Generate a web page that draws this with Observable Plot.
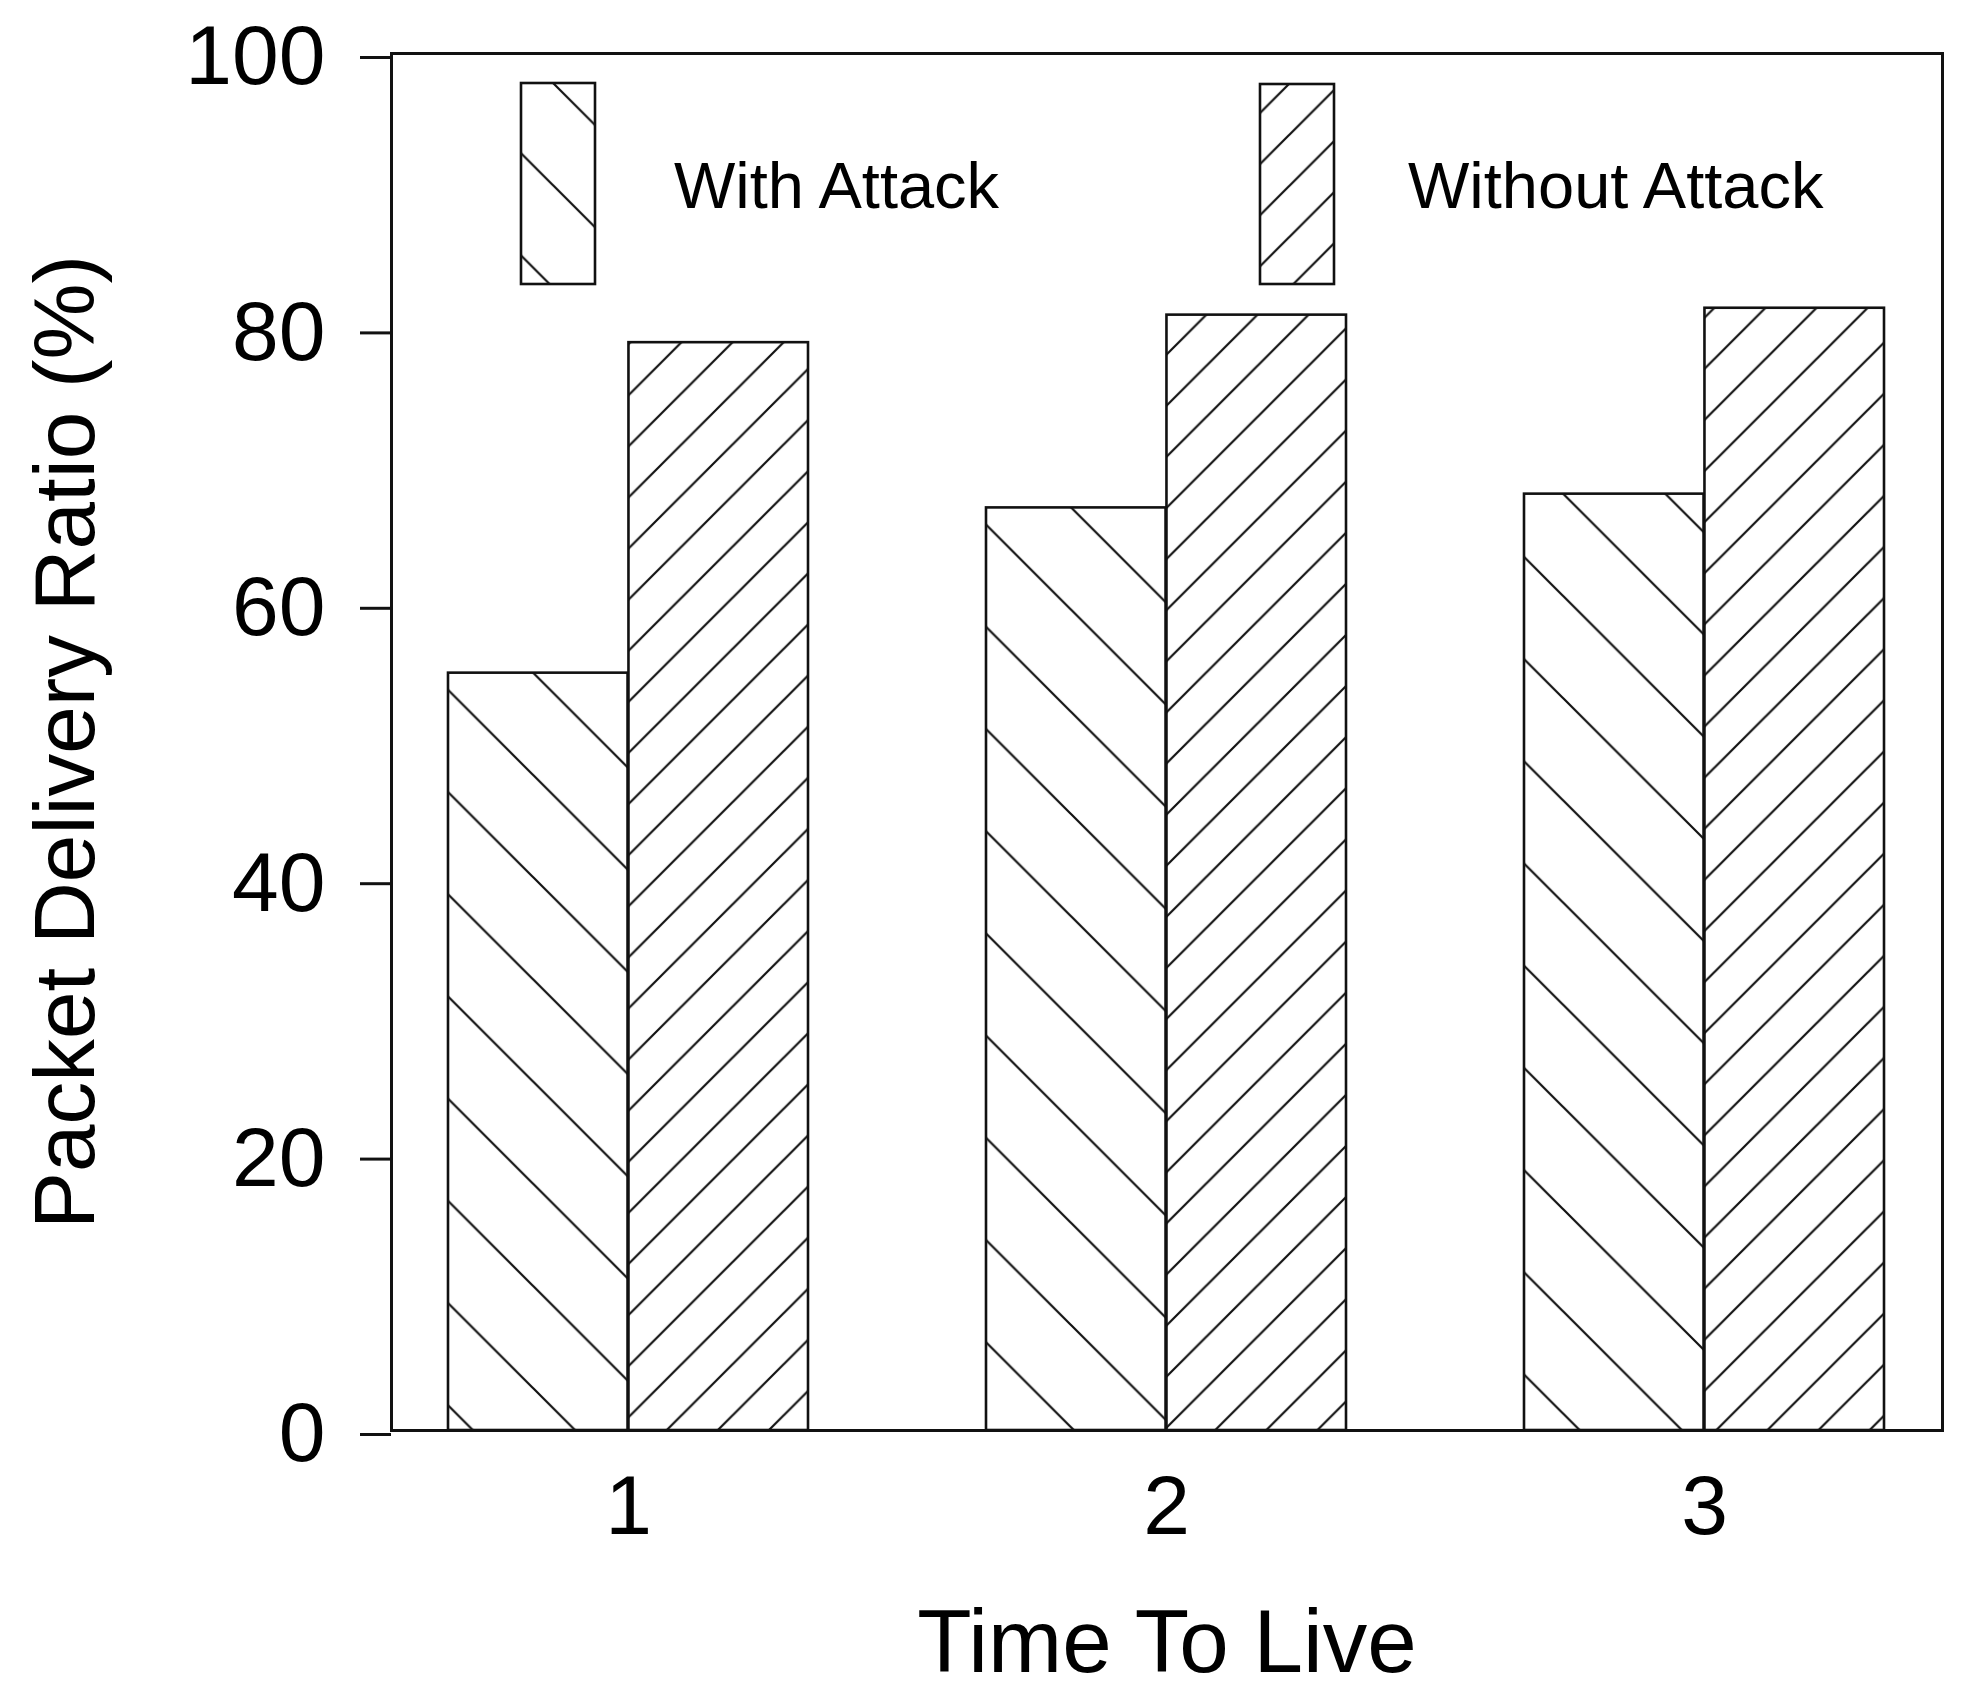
<!DOCTYPE html>
<html>
<head>
<meta charset="utf-8">
<script src="https://cdn.jsdelivr.net/npm/d3@7"></script>
<script src="https://cdn.jsdelivr.net/npm/@observablehq/plot@0.6"></script>
<style>
  html, body { margin: 0; padding: 0; background: #fff; }
  #chart { width: 1972px; height: 1695px; }
</style>
</head>
<body>
<div id="chart"></div>
<script>
// ---- data ----
const ttlLevels = ["1", "2", "3"];
const withAttack = [55, 67, 68];
const withoutAttack = [79, 81, 81.5];
const seriesNames = ["With Attack", "Without Attack"];
const yTicks = [0, 20, 40, 60, 80, 100];
const xTitle = "Time To Live";
const yTitle = "Packet Delivery Ratio (%)";

const rows = ttlLevels.flatMap((t, i) => [
  {ttl: t, series: seriesNames[0], value: withAttack[i], id: `hatch-w-${i}`, i},
  {ttl: t, series: seriesNames[1], value: withoutAttack[i], id: `hatch-n-${i}`, i}
]);

// ---- layout / style ----
const W = 1972, H = 1695, mL = 391, mR = 30, mT = 53, mB = 265;
const INK = "#111";
const TXT = "#000";
const FONT = "'Liberation Sans', Arial, Helvetica, sans-serif";
const xOpts = {type: "band", domain: ttlLevels, paddingInner: 0.33, paddingOuter: 0.1046};
const bw = Plot.scale({x: {...xOpts, range: [mL, W - mR]}}).bandwidth;

const plot = Plot.plot({
  width: W, height: H,
  marginLeft: mL, marginRight: mR, marginTop: mT, marginBottom: mB,
  style: {fontFamily: FONT, fontSize: "84px", color: TXT, background: "#fff"},
  x: xOpts,
  y: {domain: [0, 100]},
  color: {type: "identity"},
  marks: [
    Plot.barY(rows.filter(d => d.series === seriesNames[0]), {
      x: "ttl", y: "value", fill: d => `url(#${d.id})`,
      stroke: INK, strokeWidth: 2.6, insetRight: bw / 2
    }),
    Plot.barY(rows.filter(d => d.series === seriesNames[1]), {
      x: "ttl", y: "value", fill: d => `url(#${d.id})`,
      stroke: INK, strokeWidth: 2.6, insetLeft: bw / 2
    }),
    Plot.frame({stroke: INK, strokeWidth: 3}),
    Plot.axisY({ticks: yTicks, tickSize: 31, tickPadding: 35, label: null,
      stroke: INK, strokeWidth: 3, fill: TXT, dy: 4}),
    Plot.axisX({tickSize: 0, tickPadding: 44, label: null, fill: TXT}),
    Plot.text([yTitle], {frameAnchor: "left", dx: -358, rotate: -90,
      textAnchor: "middle", lineAnchor: "top", fontSize: 85.5, fill: TXT}),
    Plot.text([xTitle], {frameAnchor: "bottom", dy: 241, lineAnchor: "bottom",
      textAnchor: "middle", fontSize: 89, fill: TXT})
  ]
});

document.getElementById("chart").appendChild(plot);

// ---- hatch patterns (one per bar, like the original) ----
const svg = d3.select(plot);
const xs = plot.scale("x"), ys = plot.scale("y");
const defs = svg.insert("defs", ":first-child");
const S_BACK = 102.2;   // "\" hatch spacing (vertical)
const S_FWD = 51.1;     // "/" hatch spacing (vertical)
const HATCH_W = 2.2;
const backPhase = [85, 85, 39];
const fwdPhase = [2, 40, 10];

function backPattern(id, left, top, phase) {
  const S = S_BACK;
  const p = defs.append("pattern").attr("id", id).attr("patternUnits", "userSpaceOnUse")
    .attr("x", left + phase).attr("y", top).attr("width", S).attr("height", S);
  p.append("rect").attr("width", S).attr("height", S).attr("fill", "#fff");
  p.append("path").attr("d", `M0,0L${S},${S}M-3,${S - 3}L3,${S + 3}M${S - 3},-3L${S + 3},3`)
    .attr("stroke", INK).attr("stroke-width", HATCH_W).attr("fill", "none");
}
function fwdPattern(id, left, top, phase) {
  const S = S_FWD;
  const p = defs.append("pattern").attr("id", id).attr("patternUnits", "userSpaceOnUse")
    .attr("x", left + phase).attr("y", top - S).attr("width", S).attr("height", S);
  p.append("rect").attr("width", S).attr("height", S).attr("fill", "#fff");
  p.append("path").attr("d", `M0,${S}L${S},0M-3,3L3,-3M${S - 3},${S + 3}L${S + 3},${S - 3}`)
    .attr("stroke", INK).attr("stroke-width", HATCH_W).attr("fill", "none");
}

rows.forEach(d => {
  const x0 = xs.apply(d.ttl);
  const top = ys.apply(d.value);
  if (d.series === seriesNames[0]) backPattern(d.id, x0, top, backPhase[d.i]);
  else fwdPattern(d.id, x0 + bw / 2, top, fwdPhase[d.i]);
});

// ---- legend (inside the frame, top) ----
const legendItems = [
  {label: seriesNames[0], x: 521, y: 83, w: 74, h: 201, tx: 674, id: "leg-w", kind: "back", phase: 32},
  {label: seriesNames[1], x: 1260, y: 84, w: 74, h: 200, tx: 1408, id: "leg-n", kind: "fwd", phase: 29}
];
const lg = svg.append("g").attr("class", "legend");
legendItems.forEach(it => {
  if (it.kind === "back") backPattern(it.id, it.x, it.y, it.phase);
  else fwdPattern(it.id, it.x, it.y, it.phase);
  lg.append("rect").attr("x", it.x).attr("y", it.y).attr("width", it.w).attr("height", it.h)
    .attr("fill", `url(#${it.id})`).attr("stroke", INK).attr("stroke-width", 2.6);
  lg.append("text").attr("x", it.tx).attr("y", 208).attr("text-anchor", "start")
    .attr("font-family", FONT).attr("font-size", 65).attr("fill", TXT).text(it.label);
});
</script>
</body>
</html>
